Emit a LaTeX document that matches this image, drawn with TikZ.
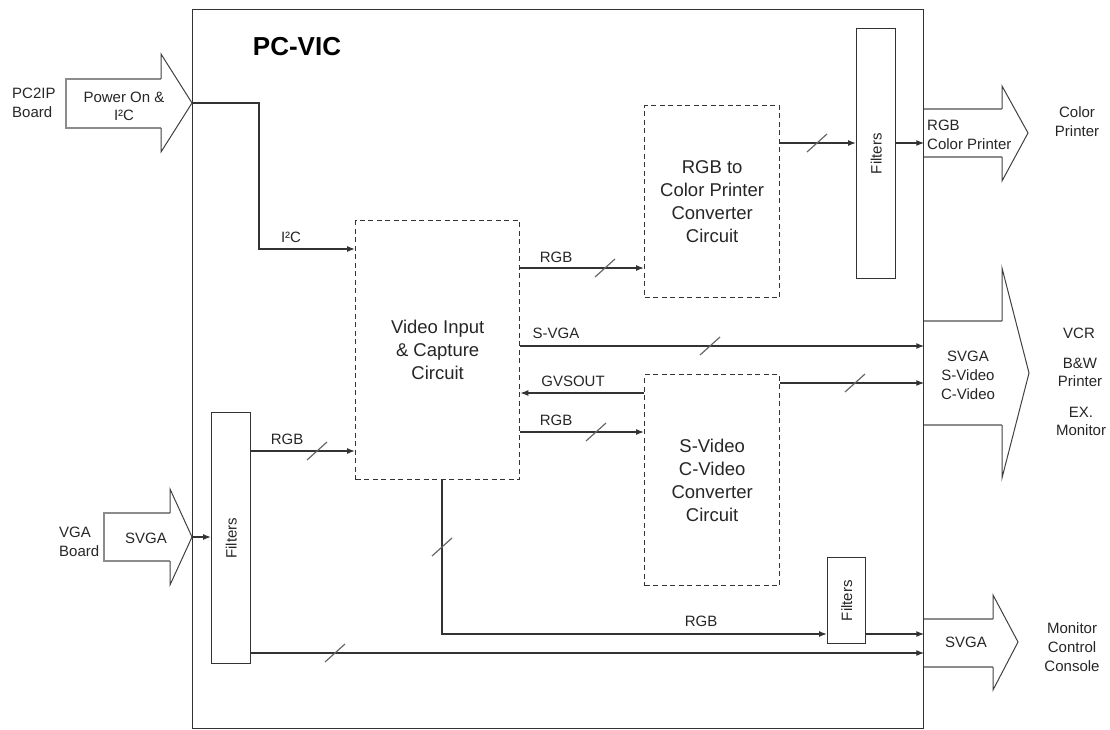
\documentclass[tikz,border=0pt]{standalone}
\usepackage{fontspec}
\setmainfont{Liberation Sans}
\usetikzlibrary{arrows.meta,calc}
\begin{document}
\begin{tikzpicture}[x=1pt,y=-1pt,
  line/.style={line width=1.3pt, draw=black!80},
  conn/.style={line, -{Latex[length=8pt,width=6pt]}},
  dbox/.style={draw=black!80, line width=1.3pt, dash pattern=on 5pt off 3.5pt, anchor=north west, inner sep=0pt, align=center, text=black!85, font=\fontsize{18.5}{23}\selectfont},
  fbox/.style={draw=black!80, line width=1.3pt, anchor=north west, inner sep=0pt},
  lbl/.style={font=\fontsize{15}{19}\selectfont, inner sep=0pt, text=black!85, align=center},
  slashmark/.style={draw=black!60, line width=1.2pt},
  abody/.style={draw=black!45, line width=2.4pt},
  ahead/.style={draw=black!75, line width=1pt, line join=miter},
]
\useasboundingbox (0,0) rectangle (1110,730);

% block arrows (bodies first, main box drawn over them)
\draw[abody] (161,79) -- (66,79) -- (66,128) -- (161,128);
\draw[ahead] (161,79) -- (161,54) -- (192,103) -- (161,152) -- (161,128);
\draw[abody] (170,513) -- (104,513) -- (104,561) -- (170,561);
\draw[ahead] (170,513) -- (170,489) -- (192,537) -- (170,585) -- (170,561);
\draw[abody] (923,109) -- (1002,109) (923,157) -- (1002,157);
\draw[ahead] (1002,109) -- (1002,86) -- (1028,133) -- (1002,181) -- (1002,157);
\draw[abody] (923,321) -- (1002,321) (923,425) -- (1002,425);
\draw[ahead] (1002,321) -- (1002,268) -- (1029,373) -- (1002,478) -- (1002,425);
\draw[abody] (923,619) -- (993,619) (923,667) -- (993,667);
\draw[ahead] (993,619) -- (993,595) -- (1018,642) -- (993,690) -- (993,667);
\coordinate (pctip) at (192,103);
\coordinate (vgatip) at (192,537);

% main box
\node[fbox, minimum width=731pt, minimum height=719pt] (main) at (192,9) {};
\node[font=\fontsize{26}{30}\selectfont\bfseries, inner sep=0pt] (title) at (297,47) {PC-VIC};

% filters
\node[fbox, minimum width=39pt, minimum height=250pt] (filt1) at (856,28) {};
\node[lbl, rotate=90] (filt1t) at (filt1.center) {Filters};
\node[fbox, minimum width=39pt, minimum height=251pt] (filt2) at (211,412) {};
\node[lbl, rotate=90] (filt2t) at (filt2.center) {Filters};
\node[fbox, minimum width=38pt, minimum height=86pt] (filt3) at (827,557) {};
\node[lbl, rotate=90] (filt3t) at (filt3.center) {Filters};

% dashed circuit boxes
\node[dbox, minimum width=164pt, minimum height=259pt] (video) at (355,220) {Video Input\\\& Capture\\Circuit};
\node[dbox, minimum width=135pt, minimum height=192pt] (rgbcp) at (644,105) {RGB to\\Color Printer\\Converter\\Circuit};
\node[dbox, minimum width=135pt, minimum height=211pt] (svid) at (644,374) {S-Video\\C-Video\\Converter\\Circuit};

% connectors
\draw[conn] (pctip) -- (259,103) |- (video.west |- 0,249);
\draw[conn] (video.east |- 0,268) -- (rgbcp.west |- 0,268);
\draw[conn] (rgbcp.east |- 0,143) -- (filt1.west |- 0,143);
\draw[conn] (filt1.east |- 0,143) -- (main.east |- 0,143);
\draw[conn] (video.east |- 0,346) -- (main.east |- 0,346);
\draw[conn] (svid.west |- 0,393) -- (video.east |- 0,393);
\draw[conn] (video.east |- 0,432) -- (svid.west |- 0,432);
\draw[conn] (svid.east |- 0,383) -- (main.east |- 0,383);
\draw[conn] (filt2.east |- 0,451) -- (video.west |- 0,451);
\draw[conn] (vgatip) -- (filt2.west |- vgatip);
\draw[conn] (video.south -| 442,0) |- (filt3.west |- 0,634);
\draw[conn] (filt3.east |- 0,634) -- (main.east |- 0,634);
\draw[conn] (filt2.east |- 0,653) -- (main.east |- 0,653);

% bus slashes
\foreach \px/\py in {605/268,817/143,710/346,855/383,596/432,317/451,442/547,335/653}
  \draw[slashmark] (\px-10,\py+9) -- (\px+10,\py-9);

% connector labels
\node[lbl] (l1) at (291,237) {I²C};
\node[lbl] (l2) at (556,257) {RGB};
\node[lbl] (l3) at (556,333) {S-VGA};
\node[lbl] (l4) at (573,381) {GVSOUT};
\node[lbl] (l5) at (556,420) {RGB};
\node[lbl] (l6) at (287,439) {RGB};
\node[lbl] (l7) at (701,621) {RGB};

% block arrow texts
\node[lbl, font=\fontsize{15}{18}\selectfont] (t1) at (124,106) {Power On \&\\I²C};
\node[lbl, anchor=west, align=left] (t2) at (12,102.5) {PC2IP\\Board};
\node[lbl] (t3) at (146,538) {SVGA};
\node[lbl, anchor=west, align=left] (t4) at (59,541.5) {VGA\\Board};
\node[lbl, anchor=west, align=left] (t5) at (927,134.5) {RGB\\Color Printer};
\node[lbl] (t6) at (1077,122) {Color\\Printer};
\node[lbl] (t7) at (968,375) {SVGA\\S-Video\\C-Video};
\node[lbl] (t8) at (1079,333) {VCR};
\node[lbl, font=\fontsize{15}{18}\selectfont] (t9) at (1080,372.5) {B\&W\\Printer};
\node[lbl, font=\fontsize{15}{18}\selectfont] (t10) at (1081,421.5) {EX.\\Monitor};
\node[lbl] (t11) at (966,642) {SVGA};
\node[lbl] (t12) at (1072,647.5) {Monitor\\Control\\Console};
\end{tikzpicture}
\end{document}
